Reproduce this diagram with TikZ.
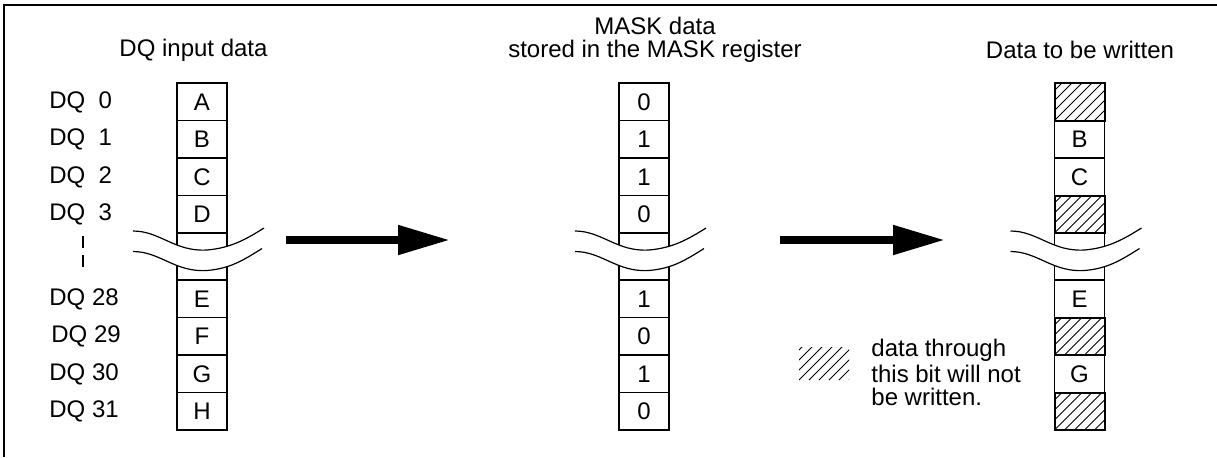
\documentclass[tikz,border=0pt]{standalone}
\usepackage{fontspec}
\setmainfont{Liberation Sans}
\usetikzlibrary{arrows.meta}
\newcommand\hatchrect[4]{%
  \begin{scope}
    \clip (#1,#2) rectangle (#3,#4);
    \foreach \k in {-50,-40,...,60} \draw[line width=0.5pt] ({#1+\k},#4) -- ++(60,-60);
  \end{scope}}
\newcommand\wavebreak[1]{%
  \fill[white] ({#1-69},231) .. controls ({#1-42},231) and ({#1-27},252) .. ({#1+5},250)
     .. controls ({#1+28},248) and ({#1+43},240) .. ({#1+62},228)
     -- ({#1+60},248.5) .. controls ({#1+41},260.5) and ({#1+28},268.5) .. ({#1+5},270.5)
     .. controls ({#1-27},272.5) and ({#1-42},251.5) .. ({#1-69},251.5) -- cycle;
  \draw[wave] ({#1-69},231) .. controls ({#1-42},231) and ({#1-27},252) .. ({#1+5},250)
     .. controls ({#1+28},248) and ({#1+43},240) .. ({#1+62},228);
  \draw[wave] ({#1-69},251.5) .. controls ({#1-42},251.5) and ({#1-27},272.5) .. ({#1+5},270.5)
     .. controls ({#1+28},268.5) and ({#1+41},260.5) .. ({#1+60},248.5);}
\begin{document}
\begin{tikzpicture}[x=0.5pt,y=-0.5pt,
  every node/.style={font=\fontsize{12}{14.4}\selectfont, inner sep=0pt},
  cell/.style={draw, line width=0.75pt, minimum width=25pt, minimum height=18.75pt},
  gapcell/.style={draw, line width=0.75pt, minimum width=25pt, minimum height=23.5pt},
  lbl/.style={anchor=west},
  frame/.style={line width=0.75pt},
  wave/.style={line width=0.6pt},
  bigarrow/.style={line width=4pt, -{Triangle[length=26pt,width=14pt]}},
]
\useasboundingbox (0,0) rectangle (1217,457);
\draw[frame] (4,457) -- (4,5) -- (1217,5);

% titles
\node (t1) at (193.5,50) {DQ input data};
\node[align=center, font=\fontsize{12}{11.5}\selectfont] (t2) at (655,40) {MASK data\\stored in the MASK register};
\node (t3) at (1080,50) {Data to be written};

% left labels
\node[lbl] (l0) at (49,102) {DQ~~0};
\node[lbl] (l1) at (49,139.5) {DQ~~1};
\node[lbl] (l2) at (49,177) {DQ~~2};
\node[lbl] (l3) at (49,214.5) {DQ~~3};
\node[lbl] (l28) at (49,299) {DQ 28};
\node[lbl] (l29) at (51,336.5) {DQ 29};
\node[lbl] (l30) at (49,374) {DQ 30};
\node[lbl] (l31) at (49,411.5) {DQ 31};
\coordinate (dtop) at (83,236);
\coordinate (dbot) at (83,273);
\draw[line width=0.75pt, dash pattern=on 6pt off 3.5pt] (dtop) -- (dbot);

% column 1
\node[cell] (a) at (202,101.75) {A};
\node[cell] (b) at (202,139.25) {B};
\node[cell] (c) at (202,176.75) {C};
\node[cell] (d) at (202,214.25) {D};
\node[gapcell] (g1) at (202,256.5) {};
\node[cell] (e) at (202,298.75) {E};
\node[cell] (f) at (202,336.25) {F};
\node[cell] (g) at (202,373.75) {G};
\node[cell] (h) at (202,411.25) {H};
\wavebreak{202}

% column 2
\node[cell] (m0) at (644,101.75) {0};
\node[cell] (m1) at (644,139.25) {1};
\node[cell] (m2) at (644,176.75) {1};
\node[cell] (m3) at (644,214.25) {0};
\node[gapcell] (g2) at (644,256.5) {};
\node[cell] (m28) at (644,298.75) {1};
\node[cell] (m29) at (644,336.25) {0};
\node[cell] (m30) at (644,373.75) {1};
\node[cell] (m31) at (644,411.25) {0};
\wavebreak{644}

% column 3
\hatchrect{1054.5}{83}{1104.5}{120.5}
\hatchrect{1054.5}{195.5}{1104.5}{233}
\hatchrect{1054.5}{317.5}{1104.5}{355}
\hatchrect{1054.5}{392.5}{1104.5}{430}
\node[cell, line width=1pt] (w0) at (1079.5,101.75) {};
\node[cell] (w1) at (1079.5,139.25) {B};
\node[cell] (w2) at (1079.5,176.75) {C};
\node[cell, line width=1pt] (w3) at (1079.5,214.25) {};
\node[gapcell] (g3) at (1079.5,256.5) {};
\node[cell] (w28) at (1079.5,298.75) {E};
\node[cell, line width=1pt] (w29) at (1079.5,336.25) {};
\node[cell] (w30) at (1079.5,373.75) {G};
\node[cell, line width=1pt] (w31) at (1079.5,411.25) {};
\wavebreak{1079.5}

% arrows
\coordinate (a1s) at (286,240);
\coordinate (a1e) at (450,240);
\coordinate (a2s) at (780,240);
\coordinate (a2e) at (945,240);
\draw[bigarrow] (a1s) -- (a1e);
\draw[bigarrow] (a2s) -- (a2e);

% legend
\hatchrect{799}{347}{849}{380}
\node[lbl] (k1) at (871,350) {data through};
\node[lbl] (k2) at (871,373.5) {this bit will not};
\node[lbl] (k3) at (871,397) {be written.};
\end{tikzpicture}
\end{document}
